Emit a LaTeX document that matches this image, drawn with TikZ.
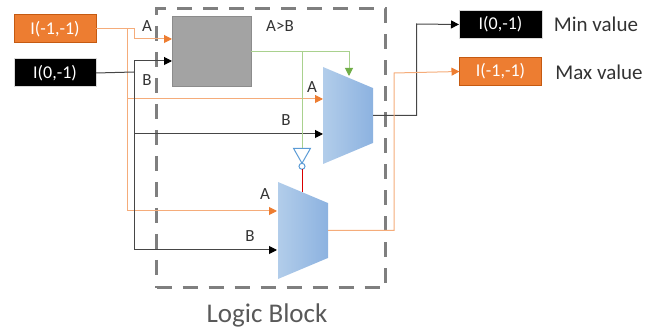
\documentclass[tikz,border=0pt]{standalone}
\usepackage{fontspec}
\setmainfont{Carlito}
\usepackage{xcolor}
\usetikzlibrary{arrows.meta, positioning, shapes.geometric}
\definecolor{valueorange}{RGB}{237,125,49}
\definecolor{edgeorange}{RGB}{197,90,17}
\definecolor{wireorange}{RGB}{245,172,122}
\definecolor{wireblack}{RGB}{70,70,70}
\definecolor{wiregreen}{RGB}{169,209,142}
\definecolor{tipgreen}{RGB}{112,173,71}
\definecolor{muxleft}{RGB}{178,205,234}
\definecolor{muxright}{RGB}{140,178,224}
\definecolor{gateblue}{RGB}{91,155,213}
\definecolor{blockgrey}{RGB}{127,127,127}

\begin{document}
\begin{tikzpicture}[
    x=1pt, y=-1pt,
    line width=1pt,
    node distance=16pt,
    every node/.style={
        inner sep=0pt,
        outer sep=0pt,
        text=black!80
    },
    valuebox/.style={
        font=\fontsize{18}{18}\selectfont,
        text=white,
        minimum width=82pt,
        minimum height=28pt
    },
    orangebox/.style={valuebox, fill=valueorange, draw=edgeorange},
    blackbox/.style={valuebox, fill=black, draw=black!15},
    portlabel/.style={font=\fontsize{17}{17}\selectfont},
    sidelabel/.style={font=\fontsize{21}{21}\selectfont},
    mux/.style={
        trapezium,
        shape border rotate=270,
        trapezium stretches=true,
        trapezium angle=69,
        inner sep=1pt,
        left color=muxleft,
        right color=muxright,
        minimum width=97pt,
        minimum height=50pt
    },
    orangewire/.style={wireorange, -{Triangle[length=8pt,width=8pt,color=valueorange]}},
    blackwire/.style={wireblack, -{Triangle[length=8pt,width=8pt,color=black]}},
    greenwire/.style={wiregreen, -{Triangle[length=8pt,width=8pt,color=tipgreen]}}
]
\useasboundingbox (0,0) rectangle (657,328);

\node[draw=blockgrey, line width=3pt, dash pattern=on 15pt off 11pt,
      minimum width=229pt, minimum height=279pt] (logic) at (271,148.5) {};
\node[font=\fontsize{27}{27}\selectfont, text=black!65] (logiclabel) at (267,315) {Logic Block};

% inputs
\node[orangebox] (inputa) at (55,29) {I(-1,-1)};
\node[blackbox, below=16pt of inputa] (inputb) {I(0,-1)};

% comparator and muxes
\node[fill=black!36, draw=black!45, minimum width=79pt, minimum height=70pt] (compare) at (211.5,52) {};
\node[mux] (muxa) at (348,115.5) {};
\node[mux] (muxb) at (303,230.5) {};

% inverter
\node[isosceles triangle, isosceles triangle stretches=true, shape border rotate=270,
      inner sep=1pt, draw=gateblue, minimum width=17pt, minimum height=15pt] (invert) at (302,153) {};
\node[circle, draw=gateblue, minimum size=6pt, below=0pt of invert] (bubble) {};

% outputs
\node[blackbox, minimum width=83pt] (outmin) at (500.5,24.5) {I(0,-1)};
\node[orangebox, below=19pt of outmin] (outmax) {I(-1,-1)};
\node[sidelabel] (minlabel) at (596,24) {Min value};
\node[sidelabel] (maxlabel) at (599,72) {Max value};

% ports
\coordinate (comparea) at (172,39);
\coordinate (compareb) at (172,61);
\coordinate (muxaa) at (323,99);
\coordinate (muxab) at (323,134);
\coordinate (muxba) at (277,211);
\coordinate (muxbb) at (277,250);
\coordinate (muxasel) at (349,76);
\coordinate (muxbsel) at (302,192);
\coordinate (orangejoin) at (127,29);
\coordinate (orangestep) at (134,29);
\coordinate (orangeturn) at (134,39);
\coordinate (blackjoin) at (134,72);
\coordinate (blacktop) at (134,61);
\coordinate (orangerail) at (127,99);
\coordinate (blackrail) at (134,134);
\coordinate (greenjoin) at (302,52);
\coordinate (minbend) at (416.5,24);
\coordinate (maxbend) at (394,73);

\draw[orangewire] (inputa.east) -- (orangestep) -- (orangeturn) -- (comparea);
\draw[orangewire] (orangejoin) |- (muxba);
\draw[orangewire] (orangerail) -- (muxaa);
\draw[wireblack] (inputb.east) -- (blackjoin);
\draw[blackwire] (blacktop) -- (compareb);
\draw[blackwire] (blacktop) |- (muxbb);
\draw[blackwire] (blackrail) -- (muxab);
\draw[greenwire] (compare.east) -| (muxasel);
\draw[wiregreen] (greenjoin) -- (invert.north);
\draw[red!85!black] (bubble.south) -- (muxbsel);
\draw[blackwire] (muxa.east) -| (minbend) -- (outmin.west);
\draw[orangewire] (muxb.east) -| (maxbend) -- (outmax.west);

\node[portlabel] (labela) at (147,26) {A};
\node[portlabel] (labelb) at (147,80) {B};
\node[portlabel] (labelgt) at (280,26) {A>B};
\node[portlabel] (labelmuxaa) at (312,87) {A};
\node[portlabel] (labelmuxab) at (286,120) {B};
\node[portlabel] (labelmuxba) at (265,194) {A};
\node[portlabel] (labelmuxbb) at (250,236) {B};
\end{tikzpicture}
\end{document}
